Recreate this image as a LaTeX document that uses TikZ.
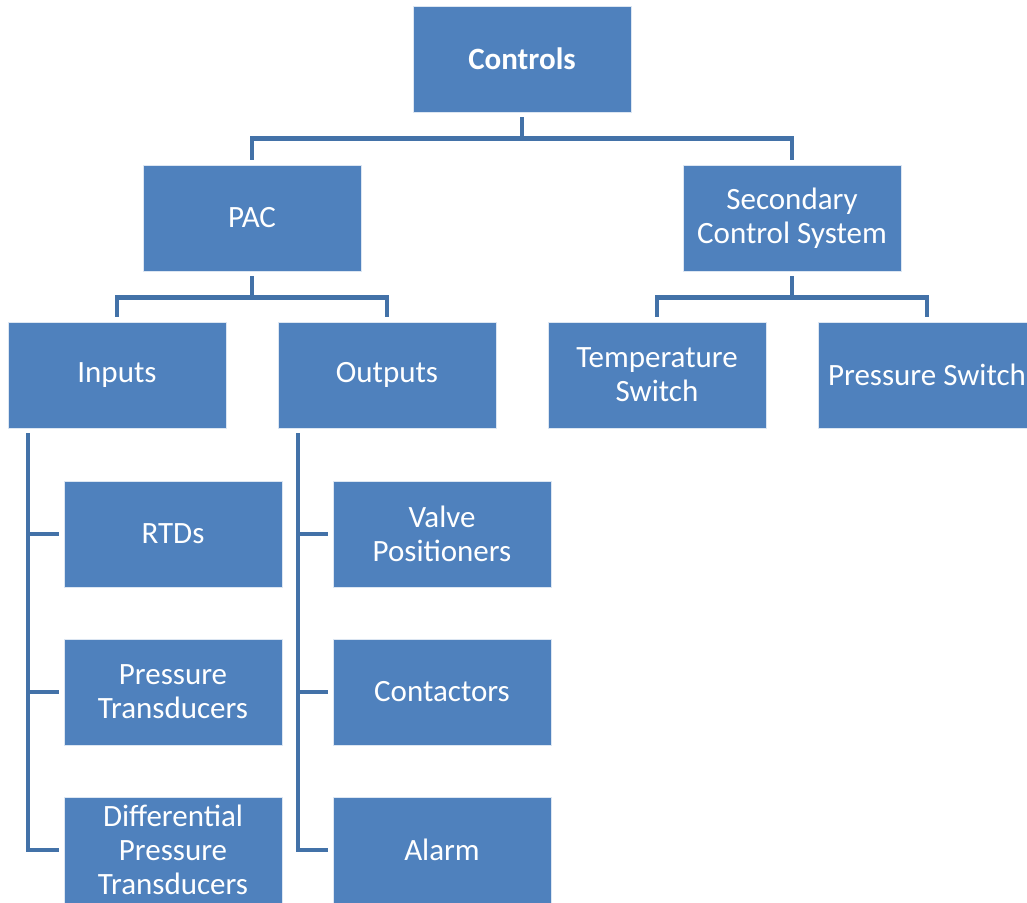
\documentclass[tikz,border=0pt]{standalone}
\usepackage{fontspec}
\setmainfont{Carlito}
\usetikzlibrary{calc}
\definecolor{boxblue}{HTML}{4F81BD}
\definecolor{linkblue}{HTML}{4372A8}
\tikzset{
  box/.style={rectangle, fill=boxblue, draw=white!80!boxblue, line width=0.8pt, minimum width=218pt, minimum height=106pt, inner sep=0pt, text=white, align=center, font=\fontsize{31}{34}\selectfont},
  conn/.style={draw=linkblue, line width=4.2pt, line join=miter},
}
\begin{document}
\begin{tikzpicture}[x=1pt,y=-1pt]
\useasboundingbox (0,0) rectangle (1027,902);
\clip (0,0) rectangle (1027,902);
\node[box, font=\fontsize{31}{34}\selectfont\bfseries] (ctrl) at (522,59) {Controls};
\node[box] (pac) at (252,218) {PAC};
\node[box] (sec) at (792,218) {Secondary\\Control System};
\node[box] (inp) at (117,375) {\raisebox{-2pt}{Inputs}};
\node[box] (out) at (387,375) {\raisebox{-2pt}{Outputs}};
\node[box] (tsw) at (657,375) {Temperature\\Switch};
\node[box] (psw) at (927,375) {Pressure Switch};
\node[box] (rtd) at (173,534) {RTDs};
\node[box] (ptr) at (173,692) {Pressure\\Transducers};
\node[box] (dpt) at (173,850) {Differential\\Pressure\\Transducers};
\node[box] (vpo) at (442,534) {Valve\\Positioners};
\node[box] (con) at (442,692) {Contactors};
\node[box] (alm) at (442,850) {Alarm};
% tree connectors
\draw[conn, shorten <=5pt, shorten >=5pt] (ctrl.south) -- ++(0,26) -| (pac.north);
\draw[conn, shorten <=5pt, shorten >=5pt] (ctrl.south) -- ++(0,26) -| (sec.north);
\draw[conn, shorten <=5pt, shorten >=5pt] (pac.south) -- ++(0,26) -| (inp.north);
\draw[conn, shorten <=5pt, shorten >=5pt] (pac.south) -- ++(0,26) -| (out.north);
\draw[conn, shorten <=5pt, shorten >=5pt] (sec.south) -- ++(0,26) -| (tsw.north);
\draw[conn, shorten <=5pt, shorten >=5pt] (sec.south) -- ++(0,26) -| (psw.north);
% list connectors
\draw[conn, shorten >=5pt] ($(inp.south west)+(20,5)$) |- (rtd.west);
\draw[conn, shorten >=5pt] ($(inp.south west)+(20,5)$) |- (ptr.west);
\draw[conn, shorten >=5pt] ($(inp.south west)+(20,5)$) |- (dpt.west);
\draw[conn, shorten >=5pt] ($(out.south west)+(20,5)$) |- (vpo.west);
\draw[conn, shorten >=5pt] ($(out.south west)+(20,5)$) |- (con.west);
\draw[conn, shorten >=5pt] ($(out.south west)+(20,5)$) |- (alm.west);
\end{tikzpicture}
\end{document}
